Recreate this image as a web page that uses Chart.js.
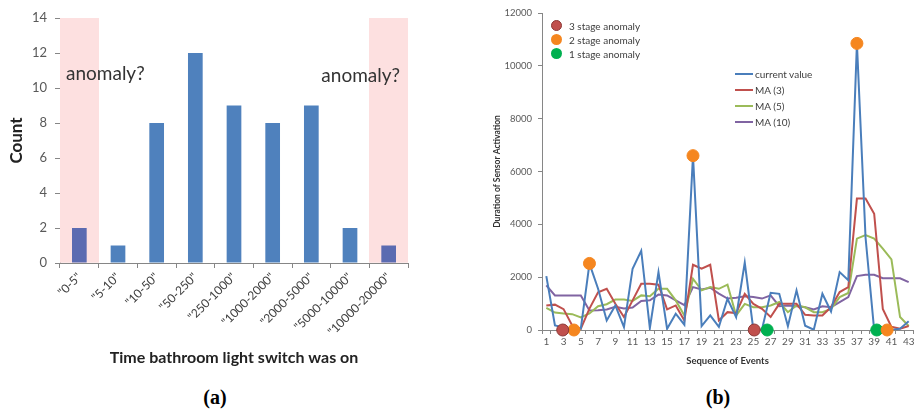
<!DOCTYPE html>
<html>
<head>
<meta charset="utf-8">
<script src="https://cdn.jsdelivr.net/npm/chart.js@4"></script>
<style>
  html, body { margin: 0; padding: 0; background: #fff; overflow: hidden; }
  #wrap { position: relative; width: 917px; height: 414px; overflow: hidden; font-family: Lato, "Open Sans", sans-serif; }
  .box { position: absolute; }
  .cap { position: absolute; font: bold 20px "Liberation Serif", serif; color: #000; transform: translateX(-50%); }
  .leg { position: absolute; font-size: 10px; color: #404040; line-height: 12px; white-space: nowrap; }
  .dot { position: absolute; width: 11px; height: 11px; border-radius: 50%; box-sizing: border-box; }
  .seg { position: absolute; width: 18px; height: 2px; }
</style>
</head>
<body>
<div id="wrap">
  <div class="box" style="left:0;top:0;width:470px;height:375px"><canvas id="histo"></canvas></div>
  <div class="box" style="left:470px;top:0;width:450px;height:380px"><canvas id="seq"></canvas></div>

  <div class="dot" style="left:551px;top:20px;background:#c0504d;border:1px solid #8c3836"></div>
  <div class="leg" style="left:569px;top:20px">3 stage anomaly</div>
  <div class="dot" style="left:551px;top:34px;background:#f5861f"></div>
  <div class="leg" style="left:569px;top:34px">2 stage anomaly</div>
  <div class="dot" style="left:551px;top:48px;background:#00b050"></div>
  <div class="leg" style="left:569px;top:48px">1 stage anomaly</div>

  <div class="seg" style="left:735px;top:73px;background:#4a7ebb"></div>
  <div class="leg" style="left:755px;top:68px">current value</div>
  <div class="seg" style="left:735px;top:89px;background:#c0504d"></div>
  <div class="leg" style="left:755px;top:84px">MA (3)</div>
  <div class="seg" style="left:735px;top:105px;background:#9bbb59"></div>
  <div class="leg" style="left:755px;top:100px">MA (5)</div>
  <div class="seg" style="left:735px;top:121px;background:#8064a2"></div>
  <div class="leg" style="left:755px;top:116px">MA (10)</div>

  <div class="cap" style="left:215px;top:386px">(a)</div>
  <div class="cap" style="left:718px;top:386px">(b)</div>
</div>

<script>
// (a) histogram
var durationBins = ['"0-5"', '"5-10"', '"10-50"', '"50-250"', '"250-1000"', '"1000-2000"', '"2000-5000"', '"5000-10000"', '"10000-20000"'];
var binCounts = [2, 1, 8, 12, 9, 8, 9, 2, 1];
var anomalyBand = [14, null, null, null, null, null, null, null, 14];
var countTicks = [0, 2, 4, 6, 8, 10, 12, 14];

// (b) sequence of events
var events = [1, 2, 3, 4, 5, 6, 7, 8, 9, 10, 11, 12, 13, 14, 15, 16, 17, 18, 19, 20, 21, 22,
  23, 24, 25, 26, 27, 28, 29, 30, 31, 32, 33, 34, 35, 36, 37, 38, 39, 40, 41, 42, 43];
var currentValue = [2040, 170, 100, 0, 50, 2510, 1560, 360, 930, 110, 2320, 3000, 70, 2190, 45, 615, 200, 6600, 150, 550, 120, 1180,
  490, 2550, 0, 30, 1410, 1370, 145, 1500, 160, 10, 1370, 700, 2190, 1880, 10850, 3500, 0, 0, 0, 50, 330];
var ma3 = [930, 960, 790, 170, 50, 810, 1430, 1560, 990, 490, 1120, 1750, 1750, 1715, 780, 930, 360, 2470, 2320, 2470, 360, 675,
  640, 1370, 990, 800, 490, 990, 990, 990, 575, 550, 550, 870, 1435, 1625, 4975, 4975, 4400, 800, 120, 50, 150];
var ma5 = [840, 660, 625, 600, 475, 625, 900, 975, 1150, 1150, 1100, 1310, 1275, 1560, 1560, 1120, 550, 1940, 1500, 1625, 1560, 1715,
  550, 990, 860, 860, 930, 1060, 675, 930, 860, 675, 675, 800, 1245, 1400, 3460, 3590, 3460, 3080, 2675, 490, 150];
var ma10 = [1690, 1310, 1310, 1310, 1310, 740, 750, 775, 875, 810, 850, 1100, 1125, 1340, 1310, 1125, 940, 1625, 1530, 1600, 1375, 1190,
  1225, 1275, 1250, 1190, 1310, 900, 930, 900, 860, 780, 900, 860, 1055, 1245, 2040, 2090, 2090, 1960, 1960, 1960, 1815];
var stage3X = [2.9, 25.1];
var stage3Y = [0, 0];
var stage2X = [4.2, 6, 18, 37, 40.5];
var stage2Y = [0, 2520, 6600, 10850, 0];
var stage1X = [26.6, 39.3];
var stage1Y = [0, 0];
var durationTicks = [0, 2000, 4000, 6000, 8000, 10000, 12000];

var axisGrey = '#868686';
var tickGrey = '#595959';

function pts(xs, ys) {
  return xs.map(function (x, i) { return { x: x, y: ys[i] }; });
}

// "anomaly?" notes over the shaded bins
var anomalyNotes = {
  id: 'anomalyNotes',
  afterDatasetsDraw: function (chart) {
    var ctx = chart.ctx, x = chart.scales.x, y = chart.scales.y;
    var half = (x.getPixelForValue(1) - x.getPixelForValue(0)) / 2;
    ctx.save();
    ctx.font = '19px Lato, sans-serif';
    ctx.fillStyle = '#333';
    ctx.textBaseline = 'middle';
    ctx.textAlign = 'left';
    ctx.fillText('anomaly?', x.getPixelForValue(0) - half + 6, y.getPixelForValue(10.8));
    ctx.textAlign = 'right';
    ctx.fillText('anomaly?', x.getPixelForValue(8) + half - 8, y.getPixelForValue(10.7));
    ctx.restore();
  }
};

new Chart(document.getElementById('histo'), {
  type: 'bar',
  data: {
    labels: durationBins,
    datasets: [
      {
        data: binCounts,
        backgroundColor: function (c) { return anomalyBand[c.dataIndex] ? '#5b6bb1' : '#4f81bd'; },
        barPercentage: 0.38,
        categoryPercentage: 1,
        grouped: false,
        order: 0
      },
      {
        data: anomalyBand,
        backgroundColor: '#fde0e0',
        barPercentage: 1,
        categoryPercentage: 1,
        grouped: false,
        order: 1
      }
    ]
  },
  options: {
    responsive: true,
    maintainAspectRatio: false,
    animation: false,
    layout: { padding: { top: 18, right: 62, left: 0, bottom: 0 } },
    plugins: { legend: { display: false }, tooltip: { enabled: false } },
    scales: {
      x: {
        afterFit: function (s) { s.height = 112; },
        border: { color: axisGrey },
        grid: { drawOnChartArea: false, tickLength: 5, color: axisGrey },
        ticks: { minRotation: 45, maxRotation: 45, padding: 2, color: '#404040', font: { family: 'Lato', size: 12 } },
        title: { display: true, text: 'Time bathroom light switch was on', color: '#222', font: { family: 'Lato', size: 16, weight: 'bold' }, padding: { top: 0, bottom: 8 } }
      },
      y: {
        min: 0, max: 14,
        afterFit: function (s) { s.width = 60; },
        afterBuildTicks: function (s) { s.ticks = countTicks.map(function (v) { return { value: v }; }); },
        border: { color: axisGrey },
        grid: { drawOnChartArea: false, tickLength: 5, color: axisGrey },
        ticks: { padding: 8, color: tickGrey, font: { family: 'Lato', size: 13 } },
        title: { display: true, text: 'Count', color: '#222', font: { family: 'Lato', size: 17, weight: 'bold' }, padding: { top: 6, bottom: 0 } }
      }
    }
  },
  plugins: [anomalyNotes]
});

function line(label, values, color) {
  return { type: 'line', label: label, data: values, borderColor: color, backgroundColor: color, borderWidth: 2, pointRadius: 0, tension: 0, order: 1 };
}
function marks(label, xs, ys, fill, edge) {
  return {
    type: 'line', label: label, data: pts(xs, ys), xAxisID: 'x2', showLine: false,
    pointRadius: 6, pointBackgroundColor: fill, pointBorderColor: edge, pointBorderWidth: 1, clip: false, order: 0
  };
}

new Chart(document.getElementById('seq'), {
  type: 'line',
  data: {
    labels: events,
    datasets: [
      line('current value', currentValue, '#4a7ebb'),
      line('MA (3)', ma3, '#c0504d'),
      line('MA (5)', ma5, '#9bbb59'),
      line('MA (10)', ma10, '#8064a2'),
      marks('3 stage anomaly', stage3X, stage3Y, '#c0504d', '#8c3836'),
      marks('2 stage anomaly', stage2X, stage2Y, '#f5861f', '#f5861f'),
      marks('1 stage anomaly', stage1X, stage1Y, '#00b050', '#00b050')
    ]
  },
  options: {
    responsive: true,
    maintainAspectRatio: false,
    animation: false,
    layout: { padding: { top: 13, right: 0, left: 0, bottom: 0 } },
    plugins: { legend: { display: false }, tooltip: { enabled: false } },
    scales: {
      x: {
        offset: true,
        afterFit: function (s) { s.height = 50; },
        border: { color: axisGrey },
        grid: { offset: true, drawOnChartArea: false, tickLength: 4, color: axisGrey },
        ticks: {
          autoSkip: false, maxRotation: 0, padding: 2, color: tickGrey, font: { family: 'Lato', size: 10 },
          callback: function (v, i) { return i % 2 === 0 ? this.getLabelForValue(v) : ''; }
        },
        title: { display: true, text: 'Sequence of Events', color: '#333', font: { family: 'Lato', size: 9.5, weight: 'bold' }, padding: { top: 0, bottom: 13 } }
      },
      x2: { type: 'linear', display: false, min: 0.5, max: 43.5 },
      y: {
        min: 0, max: 12000,
        afterFit: function (s) { s.width = 72; },
        afterBuildTicks: function (s) { s.ticks = durationTicks.map(function (v) { return { value: v }; }); },
        border: { color: axisGrey },
        grid: { drawOnChartArea: false, tickLength: 4, color: axisGrey },
        ticks: { padding: 6, color: tickGrey, font: { family: 'Lato', size: 9.5 }, callback: function (v) { return String(v); } },
        title: { display: true, text: 'Duration of Sensor Activation', color: '#333', font: { family: 'Lato', size: 8.5, weight: 'bold' }, padding: { top: 22, bottom: 0 } }
      }
    }
  }
});
</script>
</body>
</html>
